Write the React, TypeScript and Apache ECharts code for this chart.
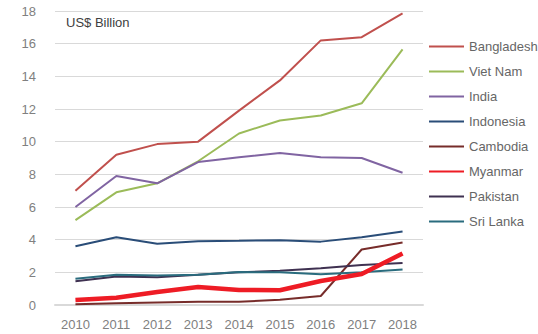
import React, { useEffect, useRef } from "react";
import * as echarts from "echarts";

const years = ["2010", "2011", "2012", "2013", "2014", "2015", "2016", "2017", "2018"];
const bangladesh = [7.0, 9.2, 9.85, 10.0, 11.9, 13.75, 16.2, 16.4, 17.85];
const vietNam = [5.2, 6.9, 7.45, 8.8, 10.5, 11.3, 11.6, 12.35, 15.65];
const india = [6.0, 7.9, 7.45, 8.75, 9.05, 9.3, 9.05, 9.0, 8.1];
const indonesia = [3.6, 4.15, 3.75, 3.9, 3.93, 3.97, 3.88, 4.15, 4.5];
const cambodia = [0.05, 0.1, 0.15, 0.2, 0.2, 0.32, 0.55, 3.4, 3.82];
const myanmar = [0.3, 0.45, 0.8, 1.1, 0.92, 0.9, 1.47, 1.9, 3.15];
const pakistan = [1.45, 1.75, 1.7, 1.85, 2.0, 2.1, 2.25, 2.45, 2.57];
const sriLanka = [1.6, 1.85, 1.8, 1.85, 2.02, 2.0, 1.88, 2.0, 2.18];

const seriesDefs = [
  { name: "Bangladesh", data: bangladesh, color: "#c0504d", width: 2 },
  { name: "Viet Nam", data: vietNam, color: "#9bbb59", width: 2 },
  { name: "India", data: india, color: "#8064a2", width: 2 },
  { name: "Indonesia", data: indonesia, color: "#2a4d78", width: 2 },
  { name: "Cambodia", data: cambodia, color: "#772c2a", width: 2 },
  { name: "Myanmar", data: myanmar, color: "#ee1c25", width: 4.5 },
  { name: "Pakistan", data: pakistan, color: "#3f3151", width: 2 },
  { name: "Sri Lanka", data: sriLanka, color: "#2a6c7e", width: 2 },
];

const FONT = "'Liberation Sans', Arial, sans-serif";

export default function App() {
  const ref = useRef<HTMLDivElement>(null);
  useEffect(() => {
    if (!ref.current) return;
    const chart = echarts.init(ref.current, undefined, { renderer: "svg" });
    chart.setOption({
      animation: false,
      backgroundColor: "#ffffff",
      grid: { left: 55, right: 115, top: 11, bottom: 29, containLabel: false },
      graphic: [
        {
          type: "text",
          left: 66,
          top: 16,
          style: { text: "US$ Billion", font: `13px ${FONT}`, fill: "#404040" },
        },
      ],
      legend: {
        orient: "vertical",
        left: 423,
        top: 35,
        itemWidth: 35,
        itemHeight: 14,
        itemGap: 12,
        itemStyle: { opacity: 0, color: "transparent", borderWidth: 0 },
        textStyle: { fontFamily: FONT, fontSize: 13, color: "#666666" },
        data: seriesDefs.map((s) => s.name),
      },
      xAxis: {
        type: "category",
        data: years,
        boundaryGap: true,
        axisLine: { show: true, lineStyle: { color: "#d9d9d9", width: 2 } },
        axisTick: { show: false },
        axisLabel: { fontFamily: FONT, fontSize: 13, color: "#808080", margin: 13 },
      },
      yAxis: {
        type: "value",
        min: 0,
        max: 18,
        interval: 2,
        axisLine: { show: false },
        axisTick: { show: false },
        axisLabel: { fontFamily: FONT, fontSize: 13, color: "#808080", margin: 19 },
        splitLine: { lineStyle: { color: "#d9d9d9", width: 1 } },
      },
      series: seriesDefs.map((s) => ({
        name: s.name,
        type: "line",
        data: s.data,
        symbol: "none",
        color: s.color,
        lineStyle: { color: s.color, width: s.width },
        z: s.name === "Myanmar" ? 3 : 2,
      })),
    });
    return () => chart.dispose();
  }, []);
  return <div ref={ref} style={{ width: 538, height: 334, position: "absolute", left: 0, top: 0 }} />;
}
